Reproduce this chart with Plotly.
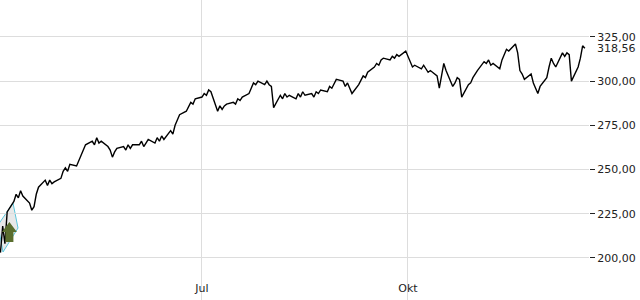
import plotly.graph_objects as go
import pandas as pd

# ---- data -------------------------------------------------------------
start_date = "2024-04-02"
end_date = "2024-12-19"

prices_apr = [203, 218, 208, 226, 232, 236, 234, 238, 235, 231, 227, 229, 236, 240,
              244, 241, 244, 242, 243, 245, 249]
prices_may = [251, 249, 253, 252, 255, 258, 262, 264, 266, 264, 268, 265, 266, 263,
              261, 257, 260, 262, 263, 261, 264, 262, 264]
prices_jun = [264, 266, 263, 265, 267, 265, 268, 266, 269, 267, 272, 270, 275, 278,
              281, 283, 286, 288, 287, 290]
prices_jul = [291, 293, 292, 295, 294, 283, 286, 284, 286, 287, 288, 287, 290, 289,
              291, 293, 296, 299, 298, 300, 298, 300, 298]
prices_aug = [297, 285, 292, 290, 293, 291, 292, 290, 293, 291, 294, 292, 293, 291,
              294, 293, 295, 294, 297, 296, 299, 301]
prices_sep = [300, 297, 299, 296, 293, 298, 301, 303, 302, 305, 308, 310, 309, 312,
              313, 312, 314, 313, 315, 314, 317]
prices_oct = [314, 311, 308, 309, 307, 309, 307, 305, 306, 303, 296, 304, 310, 306,
              297, 299, 302, 301, 291, 298, 299, 302, 304]
prices_nov = [306, 311, 310, 312, 309, 310, 307, 312, 315, 318, 317, 321, 316, 306,
              304, 301, 304, 299, 296, 293, 297]
prices_dec = [302, 308, 313, 310, 308, 316, 314, 316, 315, 300, 308, 313, 320, 318.56]

tick_dates = ["2024-07-01", "2024-10-01"]
tick_labels = ["Jul", "Okt"]
y_ticks = [200, 225, 250, 275, 300, 325]

signal_date = "2024-04-06"
signal_price = 209

x_range = ["2024-04-01 19:12", "2024-12-20 20:24"]
y_range = [176.2, 345.9]

# ---- build ------------------------------------------------------------
dates = pd.bdate_range(start_date, end_date)
prices = (prices_apr + prices_may + prices_jun + prices_jul + prices_aug +
          prices_sep + prices_oct + prices_nov + prices_dec)

FONT = dict(family="DejaVu Sans", size=11, color="#222222")

fig = go.Figure()
fig.add_trace(go.Scatter(x=dates, y=prices, mode="lines",
                         line=dict(color="black", width=1.4),
                         hoverinfo="skip", showlegend=False))

# channel marker (cyan outline with light fill) at the signal
fig.add_shape(type="path", xref="x", yref="y",
              xsizemode="pixel", ysizemode="pixel",
              xanchor=signal_date, yanchor=signal_price,
              path="M -11.4,17 L 3.6,39 L 8.6,14 L -6.4,-10 Z",
              line=dict(color="#5cc6dc", width=1),
              fillcolor="rgba(190,190,190,0.35)", layer="below")
# buy arrow
fig.add_shape(type="path", xref="x", yref="y",
              xsizemode="pixel", ysizemode="pixel",
              xanchor=signal_date, yanchor=signal_price,
              path="M -4,0 L 4,0 L 4,10 L 7.5,10 L 0,20 L -7.5,10 L -4,10 Z",
              line=dict(width=0), fillcolor="#5a6e2e", layer="above")

fig.add_annotation(x=1, xref="paper", y=prices[-1], yref="y",
                   text=f"{prices[-1]:.2f}".replace(".", ","),
                   showarrow=False, xanchor="left", xshift=6, font=FONT)

fig.update_layout(
    width=640, height=300,
    margin=dict(l=0, r=51, t=0, b=0),
    paper_bgcolor="white", plot_bgcolor="white",
    separators=", ",
    font=FONT,
    showlegend=False,
    xaxis=dict(type="date", range=x_range,
               tickvals=tick_dates, ticktext=tick_labels,
               ticklabelposition="inside", ticks="", ticklabelstandoff=3,
               showgrid=True, gridcolor="#dddddd", gridwidth=1,
               showline=False, zeroline=False, tickfont=FONT),
    yaxis=dict(side="right", range=y_range, tickvals=y_ticks,
               tickformat=".2f", ticks="outside", ticklen=5,
               tickcolor="#222222", tickwidth=1,
               showgrid=True, gridcolor="#dddddd", gridwidth=1,
               showline=False, zeroline=False, tickfont=FONT),
)

fig.write_html("out.html")
